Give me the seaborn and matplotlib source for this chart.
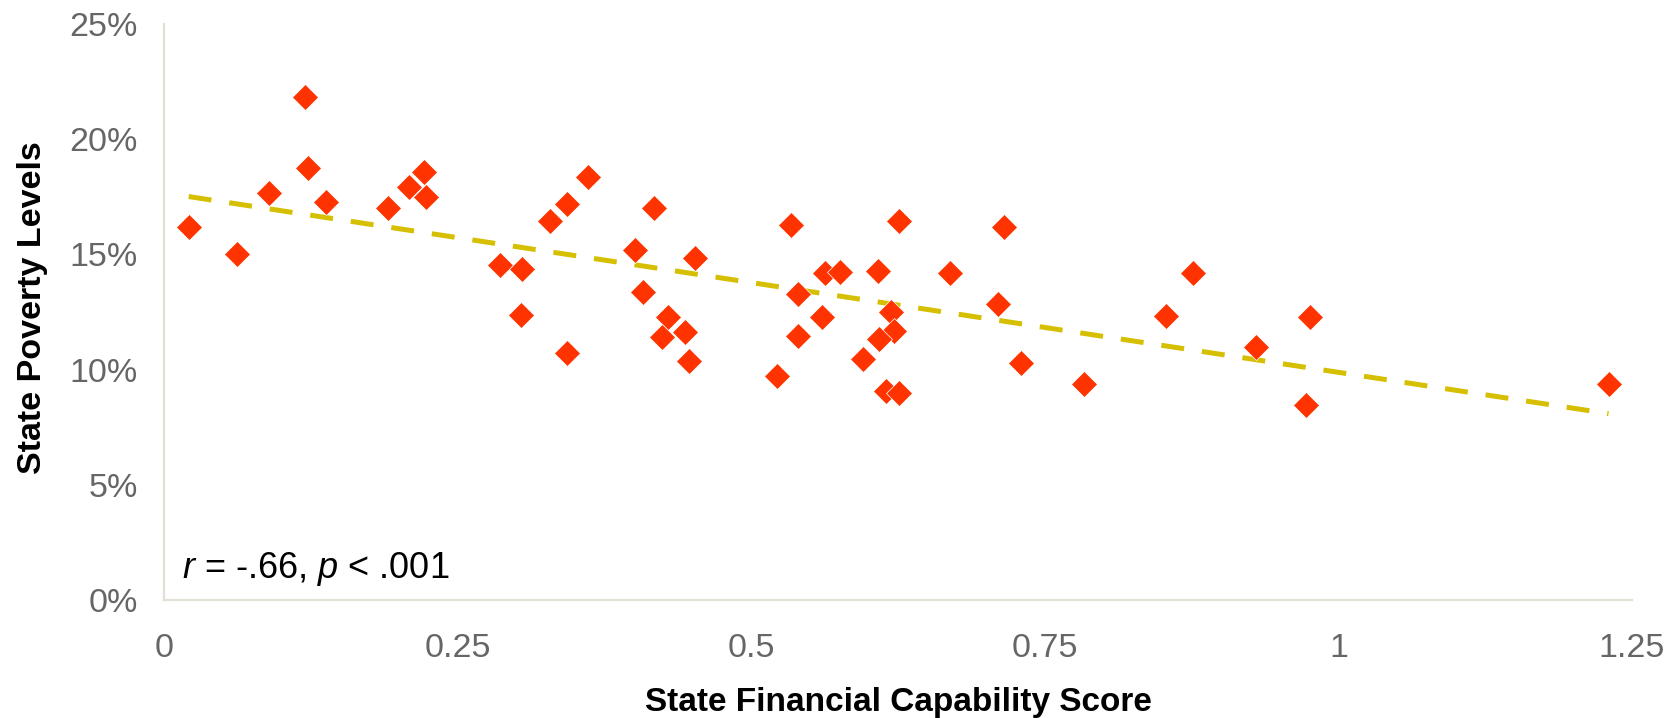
import matplotlib
matplotlib.use("Agg")
import matplotlib.pyplot as plt
import seaborn as sns
import pandas as pd
from matplotlib.ticker import FuncFormatter

# Data
capability_score = [
    0.021, 0.062, 0.089, 0.120, 0.123, 0.138, 0.191, 0.209, 0.221, 0.223,
    0.286, 0.305, 0.304, 0.329, 0.343, 0.361, 0.343, 0.417, 0.401, 0.408,
    0.429, 0.424, 0.444, 0.447, 0.452,
    0.522, 0.534, 0.540, 0.540, 0.560, 0.563, 0.576, 0.595, 0.608, 0.619,
    0.622, 0.609, 0.615, 0.626, 0.626,
    0.669, 0.715, 0.710, 0.730, 0.783, 0.853, 0.876, 0.930, 0.976, 0.972,
    1.230,
]
poverty_pct = [
    16.2, 15.0, 17.65, 21.85, 18.74, 17.29, 17.0, 17.94, 18.58, 17.48,
    14.54, 14.35, 12.36, 16.45, 17.19, 18.37, 10.71, 17.0, 15.18, 13.36,
    12.3, 11.43, 11.62, 10.36, 14.83,
    9.71, 16.28, 13.27, 11.44, 12.27, 14.18, 14.25, 10.45, 14.26, 12.5,
    11.69, 11.34, 9.09, 8.97, 16.45,
    14.18, 16.17, 12.83, 10.27, 9.36, 12.34, 14.18, 10.99, 12.27, 8.45,
    9.36,
]
x_ticks = [0, 0.25, 0.5, 0.75, 1.0, 1.25]
x_tick_labels = ["0", "0.25", "0.5", "0.75", "1", "1.25"]
y_ticks = [0, 5, 10, 15, 20, 25]

df = pd.DataFrame({"score": capability_score, "poverty": poverty_pct})

sns.set_theme(style="white")
plt.rcParams["font.family"] = ["Liberation Sans", "DejaVu Sans"]
plt.rcParams["mathtext.fontset"] = "custom"
plt.rcParams["mathtext.rm"] = "Liberation Sans"
plt.rcParams["mathtext.it"] = "Liberation Sans:italic"

W, H = 1681, 718
fig = plt.figure(figsize=(W / 100, H / 100), dpi=100)
left, right, top, bottom = 164, 1632, 24, 600
ax = fig.add_axes([left / W, 1 - bottom / H, (right - left) / W, (bottom - top) / H])

spine_col = "#E3DFD6"
tick_col = "#666666"

sns.regplot(data=df, x="score", y="poverty", ax=ax, scatter=False, ci=None,
            line_kws=dict(color="#D5BF00", lw=3.6, dashes=(4.6, 3.6), zorder=2))
sns.scatterplot(data=df, x="score", y="poverty", ax=ax, marker="D", s=175,
                color="#FF3300", edgecolor="white", linewidth=0.5, zorder=3)

ax.set_xlim(0, 1.25)
ax.set_ylim(0, 25)
ax.set_xticks(x_ticks)
ax.set_xticklabels(x_tick_labels)
ax.set_yticks(y_ticks)
ax.yaxis.set_major_formatter(FuncFormatter(lambda v, p: f"{v:.0f}%"))

for s in ["top", "right"]:
    ax.spines[s].set_visible(False)
for s in ["left", "bottom"]:
    ax.spines[s].set_color(spine_col)
    ax.spines[s].set_linewidth(1.6)

ax.tick_params(axis="both", which="major", direction="out", color=spine_col,
               width=1.6, length=7, labelsize=24.5, labelcolor=tick_col)
ax.tick_params(axis="x", pad=17)
ax.tick_params(axis="y", pad=12)
ax.set_xlabel("State Financial Capability Score", fontsize=24, fontweight="bold",
              color="black", va="center")
ax.set_ylabel("State Poverty Levels", fontsize=24.5, fontweight="bold",
              color="black", va="center")
ax.xaxis.set_label_coords(0.5, (bottom - 702) / (bottom - top))
ax.yaxis.set_label_coords((33 - left) / (right - left), 0.5 + 4 / (bottom - top))

ax.text((182 - left) / (right - left), (bottom - 578) / (bottom - top),
        r"$r$ = -.66, $p$ < .001", transform=ax.transAxes, fontsize=26,
        color="black", ha="left", va="baseline")

fig.savefig("out.png", dpi=100)
